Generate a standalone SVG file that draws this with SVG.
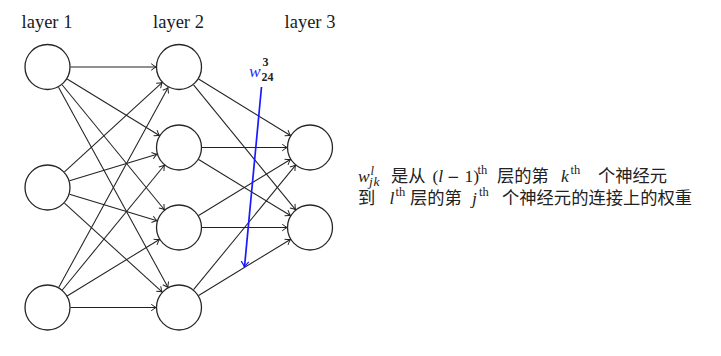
<svg xmlns="http://www.w3.org/2000/svg" width="721" height="356" viewBox="0 0 721 356">
<defs>
<style>
.node circle{fill:#fff;stroke:#262626;stroke-width:1.3}
.edges line{stroke:#222;stroke-width:1.05;marker-end:url(#ah)}
.lbl{font-family:"Liberation Serif",serif;font-size:18.5px;fill:#1a1a1a;text-anchor:middle}
.cjk{font-family:"Noto Sans CJK SC","Noto Sans CJK JP",sans-serif;font-size:17.3px;fill:#222}
.mi{font-family:"Liberation Serif",serif;font-style:italic;font-size:17.5px;fill:#222}
.mr{font-family:"Liberation Serif",serif;font-style:normal;font-size:17.5px;fill:#222}
.sm{font-size:12.5px}
.sb{font-size:13.5px;letter-spacing:0.8px}
.minus{font-family:"DejaVu Sans",sans-serif;font-size:15px}
.blue{fill:#2a2aff}
</style>
<marker id="ah" viewBox="-6 -4 7 8" refX="0" refY="0" markerWidth="7" markerHeight="8" markerUnits="userSpaceOnUse" orient="auto">
<path d="M-4.8,-3.3 Q-1.6,-0.8 0,0 Q-1.6,0.8 -4.8,3.3" fill="none" stroke="#222" stroke-width="1"/>
</marker>
<marker id="bh" viewBox="-7 -5 8 10" refX="0" refY="0" markerWidth="8" markerHeight="10" markerUnits="userSpaceOnUse" orient="auto">
<path d="M-5.5,-3.8 Q-2,-1 0,0 Q-2,1 -5.5,3.8" fill="none" stroke="#1a1aff" stroke-width="1.3"/>
</marker>
</defs>
<rect width="721" height="356" fill="#fff"/>
<g id="labels">
<text class="lbl" x="47" y="28">layer 1</text>
<text class="lbl" x="178.5" y="28">layer 2</text>
<text class="lbl" x="310" y="28">layer 3</text>
</g>
<g id="connectors" class="edges">
<line x1="70.5" y1="67" x2="156" y2="67"/>
<line x1="67.12" y1="79.01" x2="159.38" y2="135.49"/>
<line x1="62.08" y1="84.79" x2="164.42" y2="209.71"/>
<line x1="58.53" y1="87.18" x2="167.97" y2="287.32"/>
<line x1="64.46" y1="171.96" x2="162.04" y2="82.54"/>
<line x1="69.5" y1="180.81" x2="157" y2="154.19"/>
<line x1="69.5" y1="194.19" x2="157" y2="220.81"/>
<line x1="64.46" y1="203.04" x2="162.04" y2="291.96"/>
<line x1="70.5" y1="307.5" x2="156" y2="307.5"/>
<line x1="67.12" y1="295.99" x2="159.38" y2="239.51"/>
<line x1="62.08" y1="290.21" x2="164.42" y2="165.29"/>
<line x1="58.53" y1="287.82" x2="167.97" y2="87.68"/>
<line x1="198.6" y1="79.04" x2="290.4" y2="135.46"/>
<line x1="193.54" y1="84.82" x2="295.46" y2="209.68"/>
<line x1="202" y1="147.5" x2="287" y2="147.5"/>
<line x1="198.63" y1="159.49" x2="290.37" y2="215.51"/>
<line x1="198.63" y1="215.51" x2="290.37" y2="159.49"/>
<line x1="202" y1="227.5" x2="287" y2="227.5"/>
<line x1="193.57" y1="289.7" x2="295.43" y2="165.3"/>
<line x1="198.63" y1="295.51" x2="290.37" y2="239.49"/>
<line x1="261.5" y1="87" x2="244.5" y2="267" style="stroke:#1a1aff;stroke-width:1.7;marker-end:url(#bh)"/>
</g>
<g id="n1_1" class="node"><circle cx="47.5" cy="67" r="22.5"/></g>
<g id="n1_2" class="node"><circle cx="47.5" cy="187.5" r="22.5"/></g>
<g id="n1_3" class="node"><circle cx="47.5" cy="307.5" r="22.5"/></g>
<g id="n2_1" class="node"><circle cx="179" cy="67" r="22.5"/></g>
<g id="n2_2" class="node"><circle cx="179" cy="147.5" r="22.5"/></g>
<g id="n2_3" class="node"><circle cx="179" cy="227.5" r="22.5"/></g>
<g id="n2_4" class="node"><circle cx="179" cy="307.5" r="22.5"/></g>
<g id="n3_1" class="node"><circle cx="310" cy="147.5" r="22.5"/></g>
<g id="n3_2" class="node"><circle cx="310" cy="227.5" r="22.5"/></g>
<g id="weight-label">
<text class="mi blue" x="249" y="77" style="font-size:17.5px">w<tspan class="mr" x="262.5" y="66" style="font-size:12px;font-weight:bold">3</tspan><tspan class="mr" x="261.5" y="80.5" style="font-size:12px;font-weight:bold">24</tspan></text>
</g>
<g id="caption">
<text class="mi" x="358" y="181.5">w<tspan class="sm" x="370.5" y="174.5">l</tspan><tspan class="sb" x="369" y="185.5">jk</tspan></text>
<text class="cjk" x="391" y="181.5">是从</text>
<text class="mr" x="432.5" y="181.5">(<tspan class="mi">l</tspan><tspan class="minus" x="447">−</tspan><tspan x="464.5">1)</tspan><tspan class="sm" x="477.5" y="174">th</tspan></text>
<text class="cjk" x="497" y="181.5">层的第</text>
<text class="mi" x="561" y="181.5">k<tspan class="mr sm" x="570.5" y="174">th</tspan></text>
<text class="cjk" x="598" y="181.5">个神经元</text>
<text class="cjk" x="358" y="203.5">到</text>
<text class="mi" x="389.5" y="203.5">l<tspan class="mr sm" x="395.5" y="196">th</tspan></text>
<text class="cjk" x="410" y="203.5">层的第</text>
<text class="mi" x="472" y="203.5">j<tspan class="mr sm" x="479" y="196">th</tspan></text>
<text class="cjk" x="502" y="203.5">个神经元的连接上的权重</text>
</g>
</svg>
